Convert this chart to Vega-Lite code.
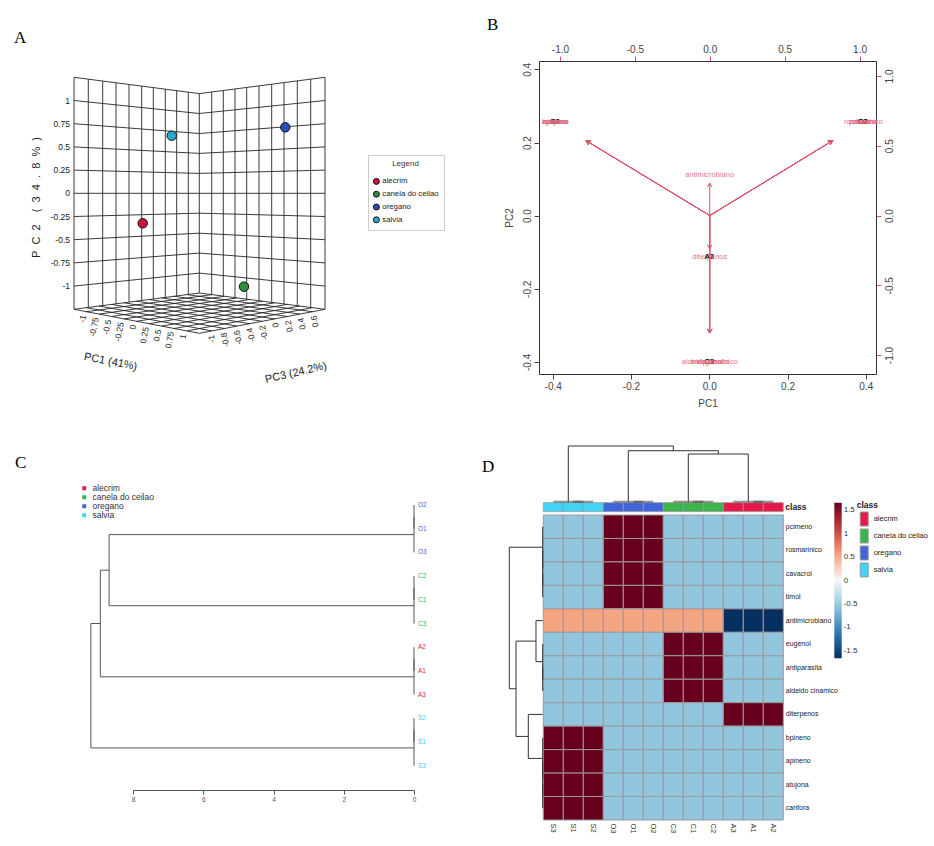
{
"$schema": "https://vega.github.io/schema/vega-lite/v6.json",
"padding": {"left": 14, "top": 16, "right": 0, "bottom": 0},
"background": "white",
"columns": 2,
"align": "none",
"bounds": "flush",
"spacing": {"row": 141, "column": 125},
"config": {
  "view": {"stroke": null},
  "font": "Liberation Sans",
  "text": {"font": "Liberation Sans"},
  "axis": {"labelFont": "Liberation Sans", "titleFont": "Liberation Sans", "grid": false},
  "legend": {"labelFont": "Liberation Sans", "titleFont": "Liberation Sans"}
},
"resolve": {"scale": {"x": "independent", "y": "independent", "color": "independent", "fill": "independent"}, "legend": {"color": "independent", "fill": "independent"}},
"datasets": {
  "agrid": [
    {"u":-1.253,"v":1.160,"u2":-1.253,"v2":-1.160},
    {"u":-1.110,"v":1.141,"u2":-1.110,"v2":-1.141},
    {"u":-0.966,"v":1.123,"u2":-0.966,"v2":-1.123},
    {"u":-0.833,"v":1.105,"u2":-0.833,"v2":-1.105},
    {"u":-0.703,"v":1.088,"u2":-0.703,"v2":-1.088},
    {"u":-0.576,"v":1.072,"u2":-0.576,"v2":-1.072},
    {"u":-0.460,"v":1.057,"u2":-0.460,"v2":-1.057},
    {"u":-0.340,"v":1.041,"u2":-0.340,"v2":-1.041},
    {"u":-0.226,"v":1.026,"u2":-0.226,"v2":-1.026},
    {"u":-0.110,"v":1.011,"u2":-0.110,"v2":-1.011},
    {"u":0,"v":0.997,"u2":0,"v2":-0.997},
    {"u":0.124,"v":1.013,"u2":0.124,"v2":-1.013},
    {"u":0.240,"v":1.028,"u2":0.240,"v2":-1.028},
    {"u":0.357,"v":1.043,"u2":0.357,"v2":-1.043},
    {"u":0.474,"v":1.058,"u2":0.474,"v2":-1.058},
    {"u":0.597,"v":1.074,"u2":0.597,"v2":-1.074},
    {"u":0.724,"v":1.091,"u2":0.724,"v2":-1.091},
    {"u":0.847,"v":1.107,"u2":0.847,"v2":-1.107},
    {"u":0.980,"v":1.124,"u2":0.980,"v2":-1.124},
    {"u":1.114,"v":1.141,"u2":1.114,"v2":-1.141},
    {"u":1.257,"v":1.160,"u2":1.257,"v2":-1.160},
    {"u":-1.253,"v":1.160,"u2":0,"v2":0.997},
    {"u":-1.253,"v":0.928,"u2":0,"v2":0.798},
    {"u":-1.253,"v":0.696,"u2":0,"v2":0.598},
    {"u":-1.253,"v":0.464,"u2":0,"v2":0.399},
    {"u":-1.253,"v":0.232,"u2":0,"v2":0.199},
    {"u":-1.253,"v":0,"u2":0,"v2":0},
    {"u":-1.253,"v":-0.232,"u2":0,"v2":-0.199},
    {"u":-1.253,"v":-0.464,"u2":0,"v2":-0.399},
    {"u":-1.253,"v":-0.696,"u2":0,"v2":-0.598},
    {"u":-1.253,"v":-0.928,"u2":0,"v2":-0.798},
    {"u":-1.253,"v":-1.160,"u2":0,"v2":-0.997},
    {"u":0,"v":0.997,"u2":1.257,"v2":1.160},
    {"u":0,"v":0.798,"u2":1.257,"v2":0.928},
    {"u":0,"v":0.598,"u2":1.257,"v2":0.696},
    {"u":0,"v":0.399,"u2":1.257,"v2":0.464},
    {"u":0,"v":0.199,"u2":1.257,"v2":0.232},
    {"u":0,"v":0,"u2":1.257,"v2":0},
    {"u":0,"v":-0.199,"u2":1.257,"v2":-0.232},
    {"u":0,"v":-0.399,"u2":1.257,"v2":-0.464},
    {"u":0,"v":-0.598,"u2":1.257,"v2":-0.696},
    {"u":0,"v":-0.798,"u2":1.257,"v2":-0.928},
    {"u":0,"v":-0.997,"u2":1.257,"v2":-1.160},
    {"u":-0.125,"v":-1.013,"u2":1.131,"v2":-1.184},
    {"u":-0.251,"v":-1.030,"u2":1.006,"v2":-1.208},
    {"u":-0.376,"v":-1.046,"u2":0.880,"v2":-1.232},
    {"u":-0.501,"v":-1.062,"u2":0.754,"v2":-1.256},
    {"u":-0.627,"v":-1.079,"u2":0.629,"v2":-1.280},
    {"u":-0.752,"v":-1.095,"u2":0.503,"v2":-1.304},
    {"u":-0.877,"v":-1.111,"u2":0.377,"v2":-1.328},
    {"u":-1.002,"v":-1.127,"u2":0.251,"v2":-1.352},
    {"u":-1.128,"v":-1.144,"u2":0.126,"v2":-1.376},
    {"u":-1.253,"v":-1.160,"u2":0,"v2":-1.400},
    {"u":0.126,"v":-1.013,"u2":-1.128,"v2":-1.184},
    {"u":0.251,"v":-1.030,"u2":-1.002,"v2":-1.208},
    {"u":0.377,"v":-1.046,"u2":-0.877,"v2":-1.232},
    {"u":0.503,"v":-1.062,"u2":-0.752,"v2":-1.256},
    {"u":0.629,"v":-1.079,"u2":-0.627,"v2":-1.280},
    {"u":0.754,"v":-1.095,"u2":-0.501,"v2":-1.304},
    {"u":0.880,"v":-1.111,"u2":-0.376,"v2":-1.328},
    {"u":1.006,"v":-1.127,"u2":-0.251,"v2":-1.352},
    {"u":1.131,"v":-1.144,"u2":-0.125,"v2":-1.376},
    {"u":1.257,"v":-1.160,"u2":0,"v2":-1.400}
  ],
  "apts": [
    {"group":"salvia","u":-0.276,"v":0.576},
    {"group":"oregano","u":0.860,"v":0.660},
    {"group":"alecrim","u":-0.566,"v":-0.300},
    {"group":"canela do ceilao","u":0.447,"v":-0.934}
  ],
  "atext": [
    {"kind":"pc2","label":"1","u":-1.293,"v":0.928},
    {"kind":"pc2","label":"0.75","u":-1.293,"v":0.696},
    {"kind":"pc2","label":"0.5","u":-1.293,"v":0.464},
    {"kind":"pc2","label":"0.25","u":-1.293,"v":0.232},
    {"kind":"pc2","label":"0","u":-1.293,"v":0},
    {"kind":"pc2","label":"-0.25","u":-1.293,"v":-0.232},
    {"kind":"pc2","label":"-0.5","u":-1.293,"v":-0.464},
    {"kind":"pc2","label":"-0.75","u":-1.293,"v":-0.696},
    {"kind":"pc2","label":"-1","u":-1.293,"v":-0.928},
    {"kind":"pc1","label":"-1","u":-1.161,"v":-1.218},
    {"kind":"pc1","label":"-0.75","u":-1.035,"v":-1.242},
    {"kind":"pc1","label":"-0.5","u":-0.909,"v":-1.266},
    {"kind":"pc1","label":"-0.25","u":-0.784,"v":-1.290},
    {"kind":"pc1","label":"0","u":-0.660,"v":-1.314},
    {"kind":"pc1","label":"0.25","u":-0.534,"v":-1.338},
    {"kind":"pc1","label":"0.5","u":-0.409,"v":-1.362},
    {"kind":"pc1","label":"0.75","u":-0.283,"v":-1.386},
    {"kind":"pc1","label":"1","u":-0.158,"v":-1.410},
    {"kind":"pc3","label":"-1","u":0.115,"v":-1.419},
    {"kind":"pc3","label":"-0.8","u":0.242,"v":-1.394},
    {"kind":"pc3","label":"-0.6","u":0.370,"v":-1.370},
    {"kind":"pc3","label":"-0.4","u":0.499,"v":-1.345},
    {"kind":"pc3","label":"-0.2","u":0.627,"v":-1.321},
    {"kind":"pc3","label":"0","u":0.755,"v":-1.296},
    {"kind":"pc3","label":"0.2","u":0.883,"v":-1.272},
    {"kind":"pc3","label":"0.4","u":1.012,"v":-1.247},
    {"kind":"pc3","label":"0.6","u":1.140,"v":-1.223},
    {"kind":"t1","label":"PC1 (41%)","u":-0.888,"v":-1.687},
    {"kind":"t3","label":"PC3 (24.2%)","u":0.967,"v":-1.797},
    {"kind":"t2","label":"P\u00a0\u00a0C\u00a0\u00a02\u00a0\u00a0\u00a0\u00a0(\u00a0\u00a03\u00a0\u00a04\u00a0\u00a0.\u00a0\u00a08\u00a0\u00a0%\u00a0\u00a0)","u":-1.626,"v":-0.042}
  ],
  "bobs": [
    {"label":"S1","pc1":-0.394,"pc2":0.256},
    {"label":"S2","pc1":-0.394,"pc2":0.256},
    {"label":"S3","pc1":-0.394,"pc2":0.256},
    {"label":"O1","pc1":0.392,"pc2":0.256},
    {"label":"O2","pc1":0.392,"pc2":0.256},
    {"label":"O3","pc1":0.392,"pc2":0.256},
    {"label":"A1","pc1":0,"pc2":-0.113},
    {"label":"A2","pc1":0,"pc2":-0.113},
    {"label":"A3","pc1":0,"pc2":-0.113},
    {"label":"C1","pc1":0,"pc2":-0.401},
    {"label":"C2","pc1":0,"pc2":-0.401},
    {"label":"C3","pc1":0,"pc2":-0.401}
  ],
  "bvars": [
    {"var":"canfora","dir":"ul","lx":-1.031,"ly":0.670,"ox":0,"oy":0,"ax":-0.825,"ay":0.536},
    {"var":"atujona","dir":"ul","lx":-1.031,"ly":0.670,"ox":0,"oy":0,"ax":-0.825,"ay":0.536},
    {"var":"apineno","dir":"ul","lx":-1.031,"ly":0.670,"ox":0,"oy":0,"ax":-0.825,"ay":0.536},
    {"var":"bpineno","dir":"ul","lx":-1.031,"ly":0.670,"ox":0,"oy":0,"ax":-0.825,"ay":0.536},
    {"var":"pcimeno","dir":"ur","lx":1.025,"ly":0.670,"ox":0,"oy":0,"ax":0.820,"ay":0.536},
    {"var":"rosmarinico","dir":"ur","lx":1.025,"ly":0.670,"ox":0,"oy":0,"ax":0.820,"ay":0.536},
    {"var":"cavacrol","dir":"ur","lx":1.025,"ly":0.670,"ox":0,"oy":0,"ax":0.820,"ay":0.536},
    {"var":"timol","dir":"ur","lx":1.025,"ly":0.670,"ox":0,"oy":0,"ax":0.820,"ay":0.536},
    {"var":"antimicrobiano","dir":"up","lx":0,"ly":0.290,"ox":0,"oy":0,"ax":0,"ay":0.232},
    {"var":"diterpenos","dir":"dn","lx":0,"ly":-0.297,"ox":0,"oy":0,"ax":0,"ay":-0.238},
    {"var":"aldeido cinamico","dir":"dn","lx":0,"ly":-1.052,"ox":0,"oy":0,"ax":0,"ay":-0.842},
    {"var":"eugenol","dir":"dn","lx":0,"ly":-1.052,"ox":0,"oy":0,"ax":0,"ay":-0.842},
    {"var":"antiparasita","dir":"dn","lx":0,"ly":-1.052,"ox":0,"oy":0,"ax":0,"ay":-0.842}
  ],
  "cseg": [
    {"h":0,"h2":0,"p":1,"p2":2},
    {"h":0,"h2":0,"p":1.5,"p2":3},
    {"h":0,"h2":0,"p":4,"p2":5},
    {"h":0,"h2":0,"p":4.5,"p2":6},
    {"h":0,"h2":0,"p":7,"p2":8},
    {"h":0,"h2":0,"p":7.5,"p2":9},
    {"h":0,"h2":0,"p":10,"p2":11},
    {"h":0,"h2":0,"p":10.5,"p2":12},
    {"h":0,"h2":8.68,"p":2.25,"p2":2.25},
    {"h":0,"h2":8.68,"p":5.25,"p2":5.25},
    {"h":8.68,"h2":8.68,"p":2.25,"p2":5.25},
    {"h":8.68,"h2":8.93,"p":3.75,"p2":3.75},
    {"h":0,"h2":8.93,"p":8.25,"p2":8.25},
    {"h":8.93,"h2":8.93,"p":3.75,"p2":8.25},
    {"h":8.93,"h2":9.2,"p":6.0,"p2":6.0},
    {"h":0,"h2":9.2,"p":11.25,"p2":11.25},
    {"h":9.2,"h2":9.2,"p":6.0,"p2":11.25}
  ],
  "cleaf": [
    {"leaf":"O2","group":"oregano","h":0,"p":1},
    {"leaf":"O1","group":"oregano","h":0,"p":2},
    {"leaf":"O3","group":"oregano","h":0,"p":3},
    {"leaf":"C2","group":"canela do ceilao","h":0,"p":4},
    {"leaf":"C1","group":"canela do ceilao","h":0,"p":5},
    {"leaf":"C3","group":"canela do ceilao","h":0,"p":6},
    {"leaf":"A2","group":"alecrim","h":0,"p":7},
    {"leaf":"A1","group":"alecrim","h":0,"p":8},
    {"leaf":"A3","group":"alecrim","h":0,"p":9},
    {"leaf":"S2","group":"salvia","h":0,"p":10},
    {"leaf":"S1","group":"salvia","h":0,"p":11},
    {"leaf":"S3","group":"salvia","h":0,"p":12}
  ],
  "dwide": [
    {"sample":"S3","class":"salvia","pcimeno":-0.553,"rosmarinico":-0.553,"cavacrol":-0.553,"timol":-0.553,"antimicrobiano":0.553,"eugenol":-0.553,"antiparasita":-0.553,"aldeido cinamico":-0.553,"diterpenos":-0.553,"bpineno":1.66,"apineno":1.66,"atujona":1.66,"canfora":1.66},
    {"sample":"S1","class":"salvia","pcimeno":-0.553,"rosmarinico":-0.553,"cavacrol":-0.553,"timol":-0.553,"antimicrobiano":0.553,"eugenol":-0.553,"antiparasita":-0.553,"aldeido cinamico":-0.553,"diterpenos":-0.553,"bpineno":1.66,"apineno":1.66,"atujona":1.66,"canfora":1.66},
    {"sample":"S2","class":"salvia","pcimeno":-0.553,"rosmarinico":-0.553,"cavacrol":-0.553,"timol":-0.553,"antimicrobiano":0.553,"eugenol":-0.553,"antiparasita":-0.553,"aldeido cinamico":-0.553,"diterpenos":-0.553,"bpineno":1.66,"apineno":1.66,"atujona":1.66,"canfora":1.66},
    {"sample":"O3","class":"oregano","pcimeno":1.66,"rosmarinico":1.66,"cavacrol":1.66,"timol":1.66,"antimicrobiano":0.553,"eugenol":-0.553,"antiparasita":-0.553,"aldeido cinamico":-0.553,"diterpenos":-0.553,"bpineno":-0.553,"apineno":-0.553,"atujona":-0.553,"canfora":-0.553},
    {"sample":"O1","class":"oregano","pcimeno":1.66,"rosmarinico":1.66,"cavacrol":1.66,"timol":1.66,"antimicrobiano":0.553,"eugenol":-0.553,"antiparasita":-0.553,"aldeido cinamico":-0.553,"diterpenos":-0.553,"bpineno":-0.553,"apineno":-0.553,"atujona":-0.553,"canfora":-0.553},
    {"sample":"O2","class":"oregano","pcimeno":1.66,"rosmarinico":1.66,"cavacrol":1.66,"timol":1.66,"antimicrobiano":0.553,"eugenol":-0.553,"antiparasita":-0.553,"aldeido cinamico":-0.553,"diterpenos":-0.553,"bpineno":-0.553,"apineno":-0.553,"atujona":-0.553,"canfora":-0.553},
    {"sample":"C3","class":"canela do ceilao","pcimeno":-0.553,"rosmarinico":-0.553,"cavacrol":-0.553,"timol":-0.553,"antimicrobiano":0.553,"eugenol":1.66,"antiparasita":1.66,"aldeido cinamico":1.66,"diterpenos":-0.553,"bpineno":-0.553,"apineno":-0.553,"atujona":-0.553,"canfora":-0.553},
    {"sample":"C1","class":"canela do ceilao","pcimeno":-0.553,"rosmarinico":-0.553,"cavacrol":-0.553,"timol":-0.553,"antimicrobiano":0.553,"eugenol":1.66,"antiparasita":1.66,"aldeido cinamico":1.66,"diterpenos":-0.553,"bpineno":-0.553,"apineno":-0.553,"atujona":-0.553,"canfora":-0.553},
    {"sample":"C2","class":"canela do ceilao","pcimeno":-0.553,"rosmarinico":-0.553,"cavacrol":-0.553,"timol":-0.553,"antimicrobiano":0.553,"eugenol":1.66,"antiparasita":1.66,"aldeido cinamico":1.66,"diterpenos":-0.553,"bpineno":-0.553,"apineno":-0.553,"atujona":-0.553,"canfora":-0.553},
    {"sample":"A3","class":"alecrim","pcimeno":-0.553,"rosmarinico":-0.553,"cavacrol":-0.553,"timol":-0.553,"antimicrobiano":-1.66,"eugenol":-0.553,"antiparasita":-0.553,"aldeido cinamico":-0.553,"diterpenos":1.66,"bpineno":-0.553,"apineno":-0.553,"atujona":-0.553,"canfora":-0.553},
    {"sample":"A1","class":"alecrim","pcimeno":-0.553,"rosmarinico":-0.553,"cavacrol":-0.553,"timol":-0.553,"antimicrobiano":-1.66,"eugenol":-0.553,"antiparasita":-0.553,"aldeido cinamico":-0.553,"diterpenos":1.66,"bpineno":-0.553,"apineno":-0.553,"atujona":-0.553,"canfora":-0.553},
    {"sample":"A2","class":"alecrim","pcimeno":-0.553,"rosmarinico":-0.553,"cavacrol":-0.553,"timol":-0.553,"antimicrobiano":-1.66,"eugenol":-0.553,"antiparasita":-0.553,"aldeido cinamico":-0.553,"diterpenos":1.66,"bpineno":-0.553,"apineno":-0.553,"atujona":-0.553,"canfora":-0.553}
  ],
  "dcol": [
    {"kind":"main","c":1.75,"c2":7.0,"h":9.3,"h2":9.3},
    {"kind":"main","c":1.75,"c2":1.75,"h":0,"h2":9.3},
    {"kind":"main","c":7.0,"c2":7.0,"h":8.51,"h2":9.3},
    {"kind":"main","c":4.75,"c2":9.25,"h":8.51,"h2":8.51},
    {"kind":"main","c":4.75,"c2":4.75,"h":0,"h2":8.51},
    {"kind":"main","c":9.25,"c2":9.25,"h":7.96,"h2":8.51},
    {"kind":"main","c":7.75,"c2":10.75,"h":7.96,"h2":7.96},
    {"kind":"main","c":7.75,"c2":7.75,"h":0,"h2":7.96},
    {"kind":"main","c":10.75,"c2":10.75,"h":0,"h2":7.96},
    {"kind":"leaf","c":1,"c2":2.5,"h":0,"h2":0},
    {"kind":"leaf","c":2,"c2":3,"h":0,"h2":0},
    {"kind":"leaf","c":4,"c2":5.5,"h":0,"h2":0},
    {"kind":"leaf","c":5,"c2":6,"h":0,"h2":0},
    {"kind":"leaf","c":7,"c2":8.5,"h":0,"h2":0},
    {"kind":"leaf","c":8,"c2":9,"h":0,"h2":0},
    {"kind":"leaf","c":10,"c2":11.5,"h":0,"h2":0},
    {"kind":"leaf","c":11,"c2":12,"h":0,"h2":0}
  ],
  "drow": [
    {"h":9.3,"h2":9.3,"r":1.875,"r2":7.906},
    {"h":0,"h2":9.3,"r":1.875,"r2":1.875},
    {"h":7.44,"h2":9.3,"r":7.906,"r2":7.906},
    {"h":7.44,"h2":7.44,"r":5.875,"r2":9.9375},
    {"h":1.87,"h2":7.44,"r":5.875,"r2":5.875},
    {"h":1.87,"h2":1.87,"r":5,"r2":6.75},
    {"h":0,"h2":1.87,"r":5,"r2":5},
    {"h":0,"h2":1.87,"r":6.75,"r2":6.75},
    {"h":4.01,"h2":7.44,"r":9.9375,"r2":9.9375},
    {"h":4.01,"h2":4.01,"r":9,"r2":10.875},
    {"h":0,"h2":4.01,"r":9,"r2":9},
    {"h":0,"h2":4.01,"r":10.875,"r2":10.875},
    {"h":0,"h2":0,"r":3,"r2":4},
    {"h":0,"h2":0,"r":2,"r2":3.5},
    {"h":0,"h2":0,"r":1,"r2":2.75},
    {"h":0,"h2":0,"r":7,"r2":8},
    {"h":0,"h2":0,"r":6,"r2":7.5},
    {"h":0,"h2":0,"r":12,"r2":13},
    {"h":0,"h2":0,"r":11,"r2":12.5},
    {"h":0,"h2":0,"r":10,"r2":11.75}
  ]
},
"concat": [
  {
    "width": 276.5, "height": 313,
    "title": {"text": "A", "anchor": "start", "frame": "group", "offset": 1, "dx": -119, "font": "Liberation Serif", "fontSize": 17, "fontWeight": "normal", "baseline": "alphabetic", "color": "#000"},
    "encoding": {
      "x": {"field": "u", "type": "quantitative", "scale": {"domain": [-0.663, 2.102], "nice": false, "zero": false}, "axis": null},
      "y": {"field": "v", "type": "quantitative", "scale": {"domain": [-1.807, 1.323], "nice": false, "zero": false}, "axis": null}
    },
    "layer": [
      {"data": {"name": "agrid"}, "mark": {"type": "rule", "color": "#262626", "strokeWidth": 0.9}, "encoding": {"x2": {"field": "u2"}, "y2": {"field": "v2"}}},
      {"data": {"name": "apts"}, "mark": {"type": "point", "filled": true, "size": 90, "stroke": "#111", "strokeWidth": 1, "opacity": 1},
       "encoding": {"fill": {"field": "group", "type": "nominal",
         "scale": {"domain": ["alecrim", "canela do ceilao", "oregano", "salvia"], "range": ["#C8143C", "#2C8F3C", "#2A4CB5", "#29A9CF"]},
         "legend": {"title": "Legend", "orient": "none", "legendX": 235, "legendY": 94, "titleAnchor": "middle", "titleFontWeight": "normal", "titleFontSize": 8, "titleColor": "#333", "titlePadding": 10, "labelFontSize": 7.8, "labelColor": "#222", "symbolType": "circle", "symbolSize": 36, "symbolStrokeColor": "#111", "symbolStrokeWidth": 1, "strokeColor": "#cccccc", "fillColor": "white", "padding": 4.5, "rowPadding": 1.8, "labelOffset": 2}}}},
      {"data": {"name": "atext"}, "transform": [{"filter": "datum.kind === 'pc2'"}], "mark": {"type": "text", "align": "right", "baseline": "middle", "fontSize": 8.5, "color": "#222"}, "encoding": {"text": {"field": "label", "type": "nominal"}}},
      {"data": {"name": "atext"}, "transform": [{"filter": "datum.kind === 'pc1'"}], "mark": {"type": "text", "align": "right", "baseline": "middle", "fontSize": 8.5, "color": "#222", "angle": 281}, "encoding": {"text": {"field": "label", "type": "nominal"}}},
      {"data": {"name": "atext"}, "transform": [{"filter": "datum.kind === 'pc3'"}], "mark": {"type": "text", "align": "right", "baseline": "middle", "fontSize": 8.5, "color": "#222", "angle": 259}, "encoding": {"text": {"field": "label", "type": "nominal"}}},
      {"data": {"name": "atext"}, "transform": [{"filter": "datum.kind === 't1'"}], "mark": {"type": "text", "align": "center", "baseline": "middle", "fontSize": 11, "color": "#222", "angle": 11}, "encoding": {"text": {"field": "label", "type": "nominal"}}},
      {"data": {"name": "atext"}, "transform": [{"filter": "datum.kind === 't3'"}], "mark": {"type": "text", "align": "center", "baseline": "middle", "fontSize": 11, "color": "#222", "angle": 347}, "encoding": {"text": {"field": "label", "type": "nominal"}}},
      {"data": {"name": "atext"}, "transform": [{"filter": "datum.kind === 't2'"}], "mark": {"type": "text", "align": "center", "baseline": "middle", "fontSize": 11, "color": "#222", "angle": 270}, "encoding": {"text": {"field": "label", "type": "nominal"}}}
    ]
  },
  {
    "width": 337, "height": 313,
    "title": {"text": "B", "anchor": "start", "frame": "group", "offset": -3, "dx": -52, "font": "Liberation Serif", "fontSize": 17, "fontWeight": "normal", "baseline": "alphabetic", "color": "#000"},
    "resolve": {"scale": {"x": "independent", "y": "independent"}, "axis": {"x": "independent", "y": "independent"}},
    "layer": [
      {"data": {"name": "bobs"}, "mark": {"type": "text", "color": "#222", "fontSize": 7.5, "baseline": "middle"},
       "encoding": {
         "x": {"field": "pc1", "type": "quantitative", "scale": {"domain": [-0.435, 0.426], "nice": false, "zero": false},
               "axis": {"orient": "bottom", "values": [-0.4, -0.2, 0, 0.2, 0.4], "labelExpr": "replace(format(datum.value,'.1f'),'−','-')", "tickSize": 5, "tickColor": "#444", "labelColor": "#444", "labelFontSize": 10, "labelPadding": 2, "labelFlush": false, "domain": true, "domainColor": "#333", "title": "PC1", "titleFontSize": 10, "titleFontWeight": "normal", "titleColor": "#444", "titlePadding": 7}},
         "y": {"field": "pc2", "type": "quantitative", "scale": {"domain": [-0.433, 0.423], "nice": false, "zero": false},
               "axis": {"orient": "left", "values": [-0.4, -0.2, 0, 0.2, 0.4], "labelExpr": "replace(format(datum.value,'.1f'),'−','-')", "labelAngle": 270, "labelAlign": "center", "labelBaseline": "bottom", "tickSize": 5, "tickColor": "#444", "labelColor": "#444", "labelFontSize": 10, "labelPadding": 2, "labelFlush": false, "domain": true, "domainColor": "#333", "title": "PC2", "titleFontSize": 10, "titleFontWeight": "normal", "titleColor": "#444", "titlePadding": 8}},
         "text": {"field": "label", "type": "nominal"}}},
      {"data": {"name": "bvars"}, "mark": {"type": "text", "color": "#E0607A", "fontSize": 7.5, "baseline": "middle", "opacity": 0.85},
       "encoding": {
         "x": {"field": "lx", "type": "quantitative", "scale": {"domain": [-1.14, 1.11], "nice": false, "zero": false},
               "axis": {"orient": "top", "values": [-1, -0.5, 0, 0.5, 1], "labelExpr": "replace(format(datum.value,'.1f'),'−','-')", "tickSize": 5, "tickColor": "#DF536B", "labelColor": "#444", "labelFontSize": 10, "labelPadding": 2, "labelFlush": false, "domain": true, "domainColor": "#333", "title": null}},
         "y": {"field": "ly", "type": "quantitative", "scale": {"domain": [-1.136, 1.1075], "nice": false, "zero": false},
               "axis": {"orient": "right", "values": [-1, -0.5, 0, 0.5, 1], "labelExpr": "replace(format(datum.value,'.1f'),'−','-')", "labelAngle": 270, "labelAlign": "center", "labelBaseline": "top", "tickSize": 5, "tickColor": "#DF536B", "labelColor": "#444", "labelFontSize": 10, "labelPadding": 3, "labelFlush": false, "domain": true, "domainColor": "#333", "title": null}},
         "text": {"field": "var", "type": "nominal"}}},
      {"data": {"name": "bvars"}, "mark": {"type": "rule", "color": "#DF536B", "strokeWidth": 1},
       "encoding": {
         "x": {"field": "ox", "type": "quantitative", "scale": {"domain": [-1.14, 1.11], "nice": false, "zero": false}, "axis": null},
         "y": {"field": "oy", "type": "quantitative", "scale": {"domain": [-1.136, 1.1075], "nice": false, "zero": false}, "axis": null},
         "x2": {"field": "ax"}, "y2": {"field": "ay"}}},
      {"data": {"name": "bvars"}, "transform": [{"filter": "datum.dir === 'ul'"}], "mark": {"type": "point", "shape": "M-0.55,1L0,0L0.55,1", "filled": false, "stroke": "#DF536B", "strokeWidth": 1, "size": 70, "angle": 301, "opacity": 1},
       "encoding": {"x": {"field": "ax", "type": "quantitative", "scale": {"domain": [-1.14, 1.11], "nice": false, "zero": false}, "axis": null}, "y": {"field": "ay", "type": "quantitative", "scale": {"domain": [-1.136, 1.1075], "nice": false, "zero": false}, "axis": null}}},
      {"data": {"name": "bvars"}, "transform": [{"filter": "datum.dir === 'ur'"}], "mark": {"type": "point", "shape": "M-0.55,1L0,0L0.55,1", "filled": false, "stroke": "#DF536B", "strokeWidth": 1, "size": 70, "angle": 59, "opacity": 1},
       "encoding": {"x": {"field": "ax", "type": "quantitative", "scale": {"domain": [-1.14, 1.11], "nice": false, "zero": false}, "axis": null}, "y": {"field": "ay", "type": "quantitative", "scale": {"domain": [-1.136, 1.1075], "nice": false, "zero": false}, "axis": null}}},
      {"data": {"name": "bvars"}, "transform": [{"filter": "datum.dir === 'up'"}], "mark": {"type": "point", "shape": "M-0.55,1L0,0L0.55,1", "filled": false, "stroke": "#DF536B", "strokeWidth": 1, "size": 70, "angle": 0, "opacity": 1},
       "encoding": {"x": {"field": "ax", "type": "quantitative", "scale": {"domain": [-1.14, 1.11], "nice": false, "zero": false}, "axis": null}, "y": {"field": "ay", "type": "quantitative", "scale": {"domain": [-1.136, 1.1075], "nice": false, "zero": false}, "axis": null}}},
      {"data": {"name": "bvars"}, "transform": [{"filter": "datum.dir === 'dn'"}], "mark": {"type": "point", "shape": "M-0.55,1L0,0L0.55,1", "filled": false, "stroke": "#DF536B", "strokeWidth": 1, "size": 70, "angle": 180, "opacity": 1},
       "encoding": {"x": {"field": "ax", "type": "quantitative", "scale": {"domain": [-1.14, 1.11], "nice": false, "zero": false}, "axis": null}, "y": {"field": "ay", "type": "quantitative", "scale": {"domain": [-1.136, 1.1075], "nice": false, "zero": false}, "axis": null}}}
    ]
  },
  {
    "width": 281, "height": 275,
    "title": {"text": "C", "anchor": "start", "frame": "group", "offset": -1, "dx": -118, "font": "Liberation Serif", "fontSize": 17, "fontWeight": "normal", "baseline": "alphabetic", "color": "#000"},
    "encoding": {
      "x": {"field": "h", "type": "quantitative", "scale": {"domain": [0, 8], "reverse": true, "nice": false, "zero": false},
            "axis": {"values": [0, 2, 4, 6, 8], "format": "d", "tickSize": 4, "tickColor": "#555", "domainColor": "#555", "labelFontSize": 6.5, "labelColor": "#555", "labelPadding": 2, "labelFlush": false, "title": null}},
      "y": {"field": "p", "type": "quantitative", "scale": {"domain": [1.422, 13.025], "reverse": true, "nice": false, "zero": false}, "axis": null}
    },
    "layer": [
      {"data": {"name": "cseg"}, "mark": {"type": "rule", "color": "#555", "strokeWidth": 1}, "encoding": {"x2": {"field": "h2"}, "y2": {"field": "p2"}}},
      {"data": {"name": "cleaf"}, "mark": {"type": "text", "align": "left", "baseline": "middle", "dx": 4, "fontSize": 6.5},
       "encoding": {"text": {"field": "leaf", "type": "nominal"},
         "color": {"field": "group", "type": "nominal",
           "scale": {"domain": ["alecrim", "canela do ceilao", "oregano", "salvia"], "range": ["#e6194B", "#3cb44b", "#4363d8", "#42d4f4"]},
           "legend": {"title": null, "orient": "none", "legendX": -53, "legendY": -31, "symbolType": "square", "symbolSize": 16, "labelFontSize": 8.5, "labelColor": "#333", "labelOffset": 4, "rowPadding": -0.3, "padding": 0}}}}
    ]
  },
  {
    "width": 244.3, "height": 305,
    "title": {"text": "D", "anchor": "start", "frame": "group", "offset": -43.5, "dx": -57, "font": "Liberation Serif", "fontSize": 17, "fontWeight": "normal", "baseline": "alphabetic", "color": "#000"},
    "resolve": {"scale": {"x": "independent", "y": "independent", "color": "independent", "fill": "independent"}, "axis": {"x": "independent", "y": "independent"}, "legend": {"color": "independent", "fill": "independent"}},
    "layer": [
      {"data": {"name": "dwide"},
       "transform": [{"fold": ["pcimeno", "rosmarinico", "cavacrol", "timol", "antimicrobiano", "eugenol", "antiparasita", "aldeido cinamico", "diterpenos", "bpineno", "apineno", "atujona", "canfora"], "as": ["var", "z"]}],
       "mark": {"type": "rect", "stroke": "#9a9a9a", "strokeWidth": 1},
       "encoding": {
         "x": {"field": "sample", "type": "nominal", "scale": {"domain": ["S3", "S1", "S2", "O3", "O1", "O2", "C3", "C1", "C2", "A3", "A1", "A2"], "paddingInner": 0, "paddingOuter": 0.1075, "align": 1},
               "axis": {"orient": "bottom", "labelAngle": 90, "ticks": false, "domain": false, "title": null, "labelFontSize": 7.5, "labelColor": "#333", "labelPadding": 3, "labelOverlap": false}},
         "y": {"field": "var", "type": "nominal", "scale": {"domain": ["pcimeno", "rosmarinico", "cavacrol", "timol", "antimicrobiano", "eugenol", "antiparasita", "aldeido cinamico", "diterpenos", "bpineno", "apineno", "atujona", "canfora"], "paddingInner": 0, "paddingOuter": 0},
               "axis": {"orient": "right", "ticks": false, "domain": false, "title": null, "labelFontSize": 7, "labelColor": "#222", "labelPadding": 2, "labelOverlap": false}},
         "color": {"field": "z", "type": "quantitative",
           "scale": {"domain": [-1.66, -1.107, -0.553, 0, 0.553, 1.107, 1.66], "range": ["#053061", "#2f79b5", "#92c5de", "#f7f7f7", "#f4a582", "#c43c3c", "#67001f"], "interpolate": "rgb"},
           "legend": {"title": null, "orient": "none", "legendX": 295.3, "legendY": -12.3, "direction": "vertical", "gradientLength": 155.6, "gradientThickness": 7.4, "gradientStrokeWidth": 0, "values": [-1.5, -1, -0.5, 0, 0.5, 1, 1.5], "labelExpr": "'' + datum.value", "labelFontSize": 8, "labelColor": "#333", "labelOffset": 2, "padding": 0, "labelOverlap": false}}}},
      {"data": {"name": "dwide"},
       "mark": {"type": "rect", "stroke": "#9a9a9a", "strokeWidth": 0.8},
       "encoding": {
         "x": {"field": "sample", "type": "nominal", "scale": {"domain": ["S3", "S1", "S2", "O3", "O1", "O2", "C3", "C1", "C2", "A3", "A1", "A2"], "paddingInner": 0, "paddingOuter": 0.1075, "align": 1}, "axis": null},
         "y": {"datum": 1, "type": "quantitative", "scale": {"domain": [-34.26, -0.37], "nice": false, "zero": false}, "axis": null},
         "y2": {"datum": 0},
         "fill": {"field": "class", "type": "nominal",
           "scale": {"domain": ["alecrim", "canela do ceilao", "oregano", "salvia"], "range": ["#e6194B", "#3cb44b", "#4363d8", "#42d4f4"]},
           "legend": {"title": "class", "orient": "none", "legendX": 317.7, "legendY": -14, "titleFontWeight": "bold", "titleFontSize": 8.5, "titleColor": "#222", "titlePadding": 2, "symbolType": "M-0.57,-1H0.57V1H-0.57Z", "symbolSize": 196, "symbolStrokeColor": "#999", "symbolStrokeWidth": 1, "labelFontSize": 7.5, "labelColor": "#222", "labelOffset": 2, "rowPadding": -8, "padding": 0}}}},
      {"data": {"values": [{"t": "class"}]},
       "mark": {"type": "text", "align": "left", "baseline": "middle", "fontWeight": "bold", "fontSize": 8.5, "color": "#222"},
       "encoding": {
         "x": {"datum": 12.6, "type": "quantitative", "scale": {"domain": [0.285, 12.5], "nice": false, "zero": false}, "axis": null},
         "y": {"datum": 0.5, "type": "quantitative", "scale": {"domain": [-34.26, -0.37], "nice": false, "zero": false}, "axis": null},
         "text": {"field": "t", "type": "nominal"}}},
      {"data": {"name": "dcol"}, "transform": [{"filter": "datum.kind === 'main'"}],
       "mark": {"type": "rule", "color": "#333", "strokeWidth": 1},
       "encoding": {
         "x": {"field": "c", "type": "quantitative", "scale": {"domain": [0.285, 12.5], "nice": false, "zero": false}, "axis": null},
         "x2": {"field": "c2"},
         "y": {"field": "h", "type": "quantitative", "scale": {"domain": [-53.14, -2.22], "nice": false, "zero": false}, "axis": null},
         "y2": {"field": "h2"}}},
      {"data": {"name": "dcol"}, "transform": [{"filter": "datum.kind === 'leaf'"}],
       "mark": {"type": "rule", "color": "#444", "strokeWidth": 2, "opacity": 0.55},
       "encoding": {
         "x": {"field": "c", "type": "quantitative", "scale": {"domain": [0.285, 12.5], "nice": false, "zero": false}, "axis": null},
         "x2": {"field": "c2"},
         "y": {"field": "h", "type": "quantitative", "scale": {"domain": [-53.14, -2.22], "nice": false, "zero": false}, "axis": null},
         "y2": {"field": "h2"}}},
      {"data": {"name": "drow"},
       "mark": {"type": "rule", "color": "#333", "strokeWidth": 1},
       "encoding": {
         "x": {"field": "h", "type": "quantitative", "scale": {"domain": [-67.02, 1.03], "reverse": true, "nice": false, "zero": false}, "axis": null},
         "x2": {"field": "h2"},
         "y": {"field": "r", "type": "quantitative", "scale": {"domain": [0.5, 13.5], "reverse": true, "nice": false, "zero": false}, "axis": null},
         "y2": {"field": "r2"}}}
    ]
  }
]
}
